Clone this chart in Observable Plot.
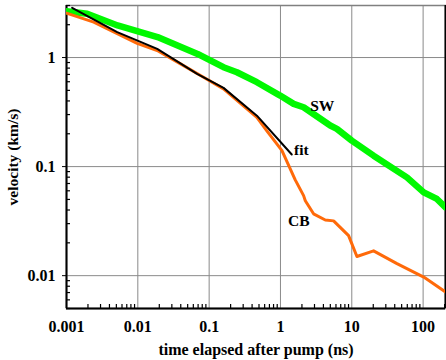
<!DOCTYPE html>
<html>
<head>
<meta charset="utf-8">
<script src="https://cdn.jsdelivr.net/npm/d3@7"></script>
<script src="https://cdn.jsdelivr.net/npm/@observablehq/plot@0.6"></script>
<style>
  html, body { margin: 0; padding: 0; background: #fff; }
  #chart svg { display: block; }
</style>
</head>
<body>
<div id="chart"></div>
<script>
// ---- data ----
const swT = [0.001, 0.00195, 0.0052, 0.0189, 0.0688, 0.159, 0.245, 0.467, 0.99, 1.53, 2.11, 4.99, 6.18, 10, 20.2, 59.3, 102, 156, 206];
const swV = [2.66, 2.52, 1.97, 1.54, 1.08, 0.815, 0.733, 0.594, 0.448, 0.376, 0.35, 0.238, 0.222, 0.173, 0.126, 0.0797, 0.058, 0.0505, 0.0423];

const cbT = [0.001, 0.00241, 0.0098, 0.0187, 0.0397, 0.0757, 0.159, 0.467, 0.644, 1.05, 1.61, 2.11, 2.23, 2.91, 4.25, 5.56, 9.02, 11.8, 20.2, 43, 102, 206];
const cbV = [2.55, 2.11, 1.35, 1.16, 0.875, 0.684, 0.516, 0.283, 0.213, 0.14, 0.0755, 0.0542, 0.0487, 0.0369, 0.0324, 0.0318, 0.0233, 0.015, 0.0169, 0.0129, 0.0097, 0.0071];

const fitT = [0.0012, 0.00514, 0.0187, 0.0678, 0.159, 0.467, 1.44];
const fitV = [2.86, 1.71, 1.2, 0.708, 0.527, 0.293, 0.129];

const labelNames = ["SW", "fit", "CB"];
const labelT = [3.86, 1.96, 1.81];
const labelV = [0.363, 0.142, 0.0319];

const xDecades = [0.001, 0.01, 0.1, 1, 10, 100];
const xTickLabels = ["0.001", "0.01", "0.1", "1", "10", "100"];
const yDecades = [0.01, 0.1, 1];
const yTickLabels = ["0.01", "0.1", "1"];

const xDomain = [0.001, 206];
const yDomain = [0.005, 3];

// minor tick positions (2..9 × decade) inside domains
const xMinor = [];
for (const d of [0.001, 0.01, 0.1, 1, 10, 100]) for (let k = 2; k <= 9; k++) { const v = d * k; if (v <= xDomain[1]) xMinor.push(v); }
const yMinor = [];
for (const d of [0.001, 0.01, 0.1, 1]) for (let k = 2; k <= 9; k++) { const v = d * k; if (v >= yDomain[0] && v <= yDomain[1]) yMinor.push(v); }

const sw = swT.map((t, i) => ({t, v: swV[i]}));
const cb = cbT.map((t, i) => ({t, v: cbV[i]}));
const fit = fitT.map((t, i) => ({t, v: fitV[i]}));
const labels = labelNames.map((n, i) => ({n, t: labelT[i], v: labelV[i]}));

function lookup(vals, names) {
  return d => {
    let best = 0, bd = Infinity;
    vals.forEach((v, i) => { const e = Math.abs(Math.log10(v) - Math.log10(d)); if (e < bd) { bd = e; best = i; } });
    return names[best];
  };
}

const font = "'Liberation Serif', 'Times New Roman', serif";

const chart = Plot.plot({
  width: 446,
  height: 360,
  marginLeft: 66,
  marginRight: 1,
  marginTop: 5,
  marginBottom: 52,
  style: {fontFamily: font, fontWeight: "bold", background: "#fff", color: "#000"},
  x: {type: "log", domain: xDomain},
  y: {type: "log", domain: yDomain},
  marks: [
    Plot.gridX(xDecades, {stroke: "#8a8a8a", strokeOpacity: 1, strokeWidth: 1}),
    Plot.gridY(yDecades, {stroke: "#8a8a8a", strokeOpacity: 1, strokeWidth: 1}),
    Plot.frame({stroke: "#808080", strokeWidth: 1.5}),
    Plot.axisX(xMinor, {tickSize: -4, text: null, label: null, strokeWidth: 1.2}),
    Plot.axisY(yMinor, {tickSize: -4, text: null, label: null, strokeWidth: 1.2}),
    Plot.axisX(xDecades, {tickSize: 0, tickPadding: 12, tickFormat: lookup(xDecades, xTickLabels), fontSize: 16, label: null}),
    Plot.axisY(yDecades, {tickSize: 4, tickPadding: 7, tickFormat: lookup(yDecades, yTickLabels), fontSize: 16, label: null}),
    Plot.axisX([], {tickSize: 0, label: "time elapsed after pump (ns)", labelAnchor: "center", labelArrow: "none", labelOffset: 46, fontSize: 16}),
    Plot.axisY([], {tickSize: 0, label: "velocity (km/s)", labelAnchor: "center", labelArrow: "none", labelOffset: 60, fontSize: 15.5}),
    Plot.ruleY([yDomain[0]], {stroke: "#000", strokeWidth: 2}),
    Plot.ruleX([xDomain[0]], {stroke: "#000", strokeWidth: 2}),
    Plot.ruleX([xDomain[1]], {stroke: "#000", strokeWidth: 2}),
    Plot.line(sw, {x: "t", y: "v", stroke: "#00f800", strokeWidth: 6.5, clip: true}),
    Plot.line(cb, {x: "t", y: "v", stroke: "#ff6a0a", strokeWidth: 3, clip: true}),
    Plot.line(fit, {x: "t", y: "v", stroke: "#000", strokeWidth: 2, clip: true}),
    Plot.text(labels, {x: "t", y: "v", text: "n", fontSize: 15.5, fontWeight: "bold", fill: "#000", textAnchor: "middle"})
  ]
});
chart.querySelectorAll("text").forEach(t => t.setAttribute("font-family", font));
document.getElementById("chart").appendChild(chart);
</script>
</body>
</html>
